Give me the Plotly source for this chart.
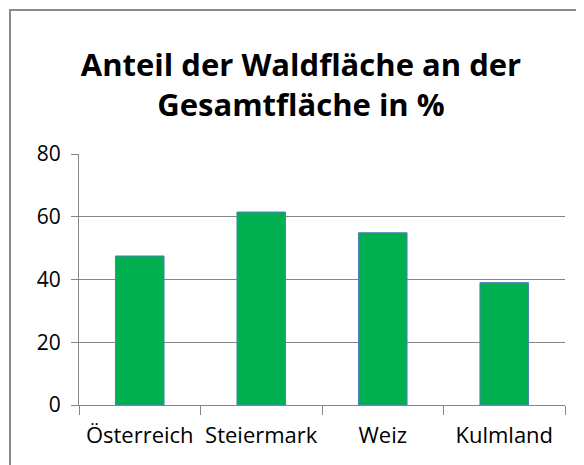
import plotly.graph_objects as go

categories = ["Österreich", "Steiermark", "Weiz", "Kulmland"]
values = [47.5, 61.5, 54.9, 39.0]
y_ticks = [0, 20, 40, 60, 80]

# the page body adds an 8px margin, so the figure is drawn 8px in from the window edge
OFF = 8
W, H = 584 - OFF, 465 - OFF
L, R, T, B = 79 - OFF, 19, 154 - OFF, 60

fig = go.Figure()
fig.add_trace(go.Bar(
    x=categories, y=values, width=0.4,
    marker=dict(color="#00B050", line=dict(color="#4F81BD", width=1)),
))

pw = W - L - R
ph = H - T - B
def px_x(p):
    return (p - L) / pw
def px_y(p):
    return (H - B - p) / ph

fig.add_shape(type="rect", xref="paper", yref="paper",
              x0=px_x(10 - OFF), x1=px_x(W + 20), y0=px_y(H + 20), y1=px_y(10 - OFF),
              line=dict(color="#8a8a8a", width=2), fillcolor="rgba(0,0,0,0)", layer="below")

FONT = "Open Sans, Lato, sans-serif"
fig.update_layout(
    width=W, height=H, autosize=False,
    margin=dict(l=L, r=R, t=T, b=B, pad=0, autoexpand=False),
    paper_bgcolor="white", plot_bgcolor="white",
    showlegend=False,
    font=dict(family=FONT, color="#000000", size=21),
    title=dict(text="<b>Anteil der Waldfläche an der<br>Gesamtfläche in %</b>",
               x=(301 - OFF) / W, xanchor="center", xref="container",
               y=1 - (76 - OFF) / H, yanchor="middle", yref="container",
               font=dict(size=31, family=FONT, color="#000000")),
)
fig.update_xaxes(
    type="category", tickson="boundaries", ticks="outside", ticklen=9,
    tickcolor="#868686", tickwidth=1, tickangle=0, automargin=False,
    showline=True, linecolor="#868686", linewidth=1,
    showgrid=False, tickfont=dict(size=22), ticklabelstandoff=11,
)
fig.update_yaxes(
    range=[0, 80], tickvals=y_ticks, ticks="outside", ticklen=7,
    tickcolor="#868686", tickwidth=1, automargin=False,
    showline=True, linecolor="#868686", linewidth=1,
    showgrid=True, gridcolor="#868686", gridwidth=1,
    zeroline=False, tickfont=dict(size=21), ticklabelstandoff=6,
)

fig.write_html("out.html")
